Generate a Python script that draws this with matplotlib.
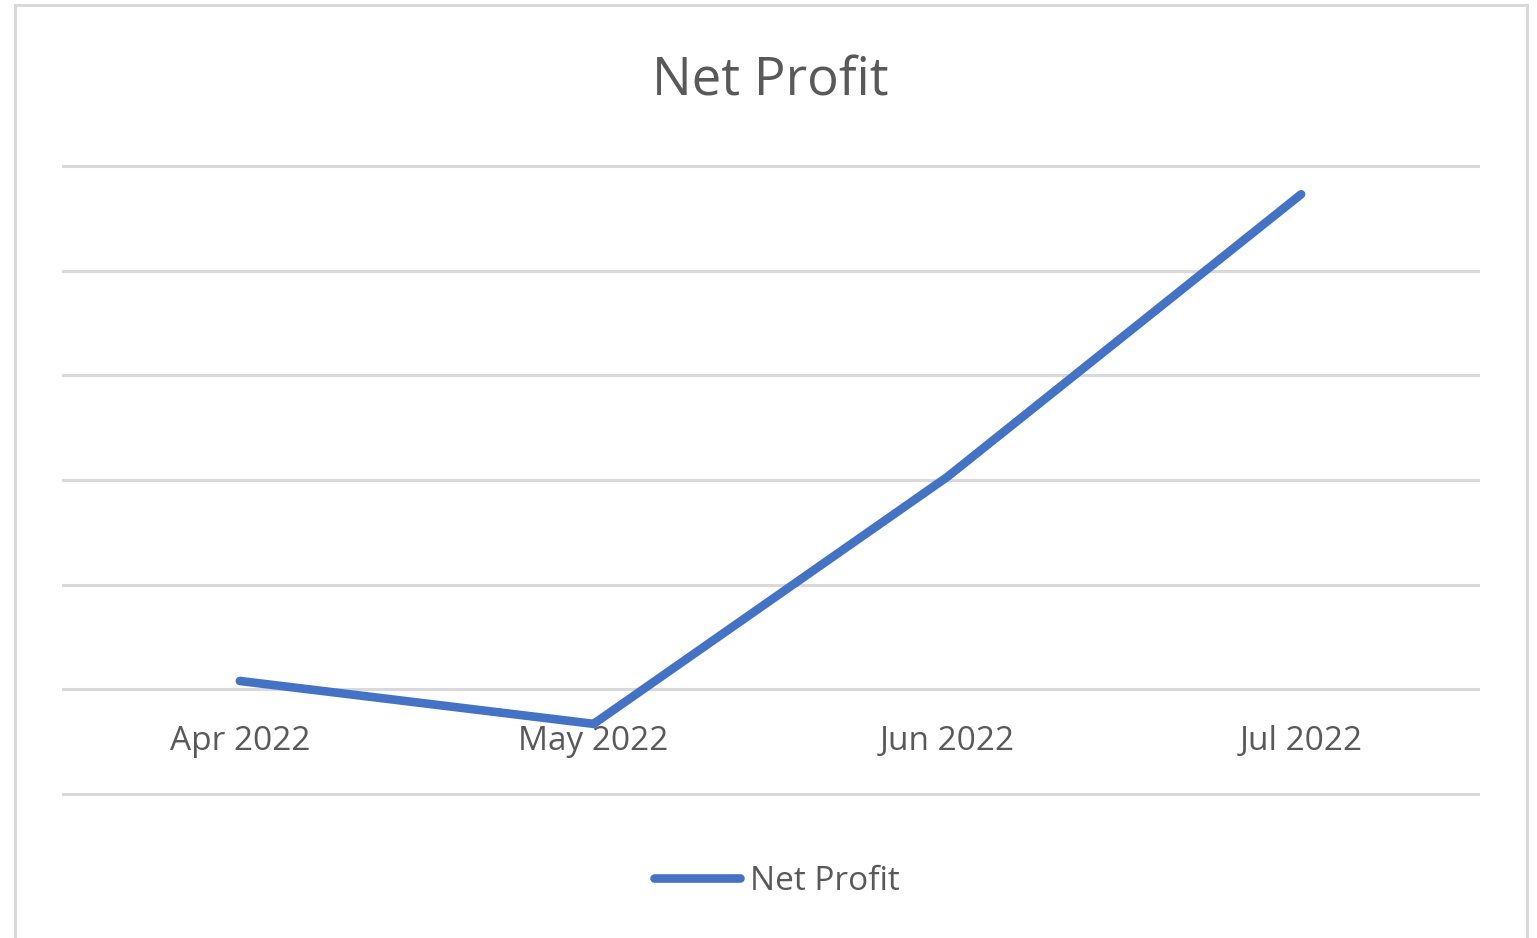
import matplotlib.pyplot as plt
from matplotlib.patches import Rectangle

# ---------------------------------------------------------
# Datos
# ---------------------------------------------------------
months = ["Apr 2022", "May 2022", "Jun 2022", "Jul 2022"]
net_profit = [0.08, -0.33, 2.03, 4.73]

plt.rcParams['font.family'] = ['Open Sans', 'DejaVu Sans']
text_color = "#595959"
grid_color = "#d9d9d9"
line_color = "#4472c4"

W, H = 1537, 938
fig = plt.figure(figsize=(W / 100, H / 100), dpi=100)

# marco exterior del grafico
fig.patches.append(Rectangle((15 / W, -0.05), (1527 - 15) / W, 1.05 - 5 / H,
                             transform=fig.transFigure, fill=False,
                             edgecolor=grid_color, linewidth=2.2))

ax = fig.add_axes([63 / W, 1 - 794 / H, (1478 - 63) / W, (794 - 166) / H])
x = list(range(len(months)))
ax.plot(x, net_profit, color=line_color, linewidth=6.2,
        solid_capstyle="round", solid_joinstyle="round", label="Net Profit", zorder=3)

ax.set_xlim(-0.5, len(months) - 0.5)
ax.set_ylim(-1, 5)
ax.set_yticks(range(-1, 6))
ax.yaxis.grid(True, color=grid_color, linewidth=2.2)
for gl in ax.get_ygridlines():
    gl.set_clip_on(False)
ax.tick_params(axis="y", left=False, labelleft=False)
for s in ax.spines.values():
    s.set_visible(False)

# eje de categorias cruza en cero
ax.spines["bottom"].set_position(("data", 0))
ax.set_xticks(x)
ax.set_xticklabels(months, fontsize=24, color=text_color)
ax.tick_params(axis="x", length=0, pad=26)

fig.text(770 / W, 1 - 95 / H, "Net Profit", ha="center", va="baseline",
         fontsize=38, color=text_color)

leg = fig.legend(loc="center", bbox_to_anchor=(777 / W, 1 - 881 / H), frameon=False,
                 fontsize=24, handlelength=2.6, handletextpad=0.3,
                 labelcolor=text_color)

fig.savefig("out.png", dpi=100)
